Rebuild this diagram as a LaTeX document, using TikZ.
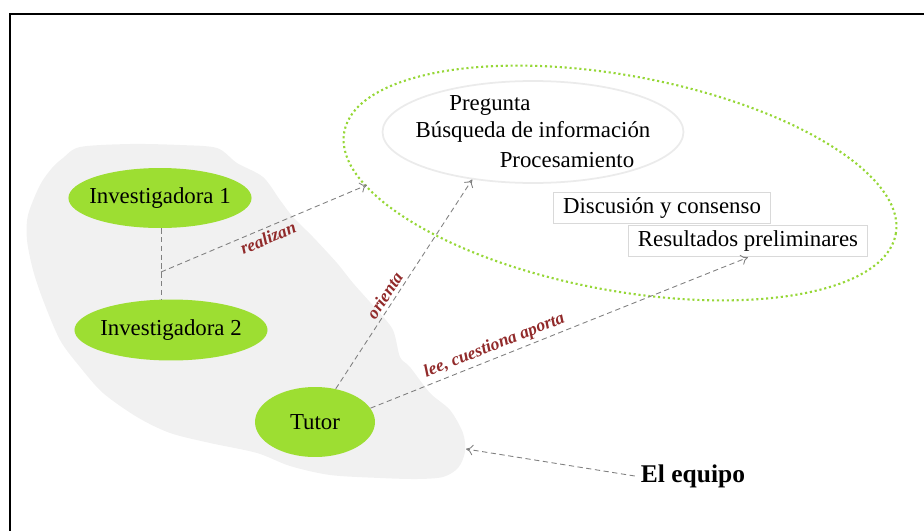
\documentclass[tikz,border=0pt]{standalone}
\usepackage{fontspec}
\setmainfont{Liberation Serif}
\usetikzlibrary{shapes.geometric,arrows.meta}

\definecolor{verde}{RGB}{157,222,50}
\definecolor{verdepunto}{RGB}{150,215,55}
\definecolor{fondo}{RGB}{241,241,241}
\definecolor{rojo}{RGB}{145,42,42}

\tikzset{
  persona/.style={ellipse,fill=verde,inner ysep=1pt,
    font=\fontsize{13}{15}\selectfont},
  caja/.style={draw=black!15,line width=0.8pt,inner xsep=5.5pt,inner ysep=3pt,
    minimum height=0.56cm,font=\fontsize{13}{15}\selectfont},
  tarea/.style={inner sep=1pt,font=\fontsize{13}{15}\selectfont},
  flecha/.style={gray,dash pattern=on 3pt off 2pt,line width=0.5pt,
    -{To[length=4pt,width=6pt]}},
  enlace/.style={gray,dash pattern=on 3pt off 2pt,line width=0.5pt},
  etiqueta/.style={sloped,inner sep=2pt,text=rojo,
    font=\fontsize{10}{12}\selectfont\bfseries\itshape}
}

\begin{document}
\begin{tikzpicture}[x=0.02cm,y=-0.02cm]
   \useasboundingbox (0,0) rectangle (924,531);
   % marco
   \draw[line width=1.1pt] (10,531) -- (10,14) -- (924,14);

   % el equipo (mancha de fondo)
   \fill[fondo] plot[smooth cycle,tension=0.5] coordinates {
     (63,158) (80,147) (130,144) (180,145) (217,148) (237,163)
     (263,177) (280,200) (293,217) (313,237) (337,263) (353,283)
     (377,310) (393,330) (400,357) (410,367) (430,393) (450,410)
     (463,433) (465,452) (458,468) (443,477) (417,479) (380,478)
     (330,475) (290,466) (257,453) (210,443) (170,433) (137,417)
     (103,393) (80,367) (60,340) (43,300) (33,270) (27,240)
     (28,215) (40,185) (52,168)};

   % ciclo de trabajo
   \node[ellipse,draw=verdepunto,line width=1.2pt,
     dash pattern=on 1.2pt off 1.6pt,rotate=-10.5,
     minimum width=11.22cm,minimum height=4.3cm] (ciclo) at (620,183) {};
   \node[ellipse,draw=black!8,line width=1pt,
     minimum width=6.02cm,minimum height=2.04cm] (tareas) at (533,132) {};
   \node[tarea] (pregunta) at (490,105) {Pregunta};
   \node[tarea] (busqueda) at (533,132) {Búsqueda de información};
   \node[tarea] (proceso) at (567,160) {Procesamiento};
   \node[caja] (discusion) at (662,208) {Discusión y consenso};
   \node[caja] (resultados) at (748,241) {Resultados preliminares};

   % personas
   \node[persona,inner xsep=-3.4pt,minimum height=1.2cm] (inv1)
     at (160,198) {Investigadora 1};
   \node[persona,inner xsep=-1.4pt,minimum height=1.22cm] (inv2)
     at (171,330) {Investigadora 2};
   \node[persona,minimum width=2.4cm,minimum height=1.4cm] (tutor)
     at (315,422) {Tutor};
   \node[font=\fontsize{14.5}{17}\selectfont\bfseries] (equipo)
     at (693,476) {El equipo};

   % conexiones
   \coordinate (union) at (161,272);
   \coordinate (borde) at (367,185);
   \coordinate (mancha) at (466,449);
   \draw[enlace] (inv1.south -| union) -- (inv2.north -| union);
   \draw[flecha] (union) -- node[etiqueta,below]{realizan} (borde);
   \draw[flecha] (tutor.58) -- node[etiqueta,above,pos=0.42]{orienta}
     (tareas.218);
   \draw[flecha] (tutor.14) -- node[etiqueta,above,pos=0.34]{lee, cuestiona aporta}
     (resultados.south);
   \draw[flecha] (equipo.west) -- (mancha);
\end{tikzpicture}
\end{document}
